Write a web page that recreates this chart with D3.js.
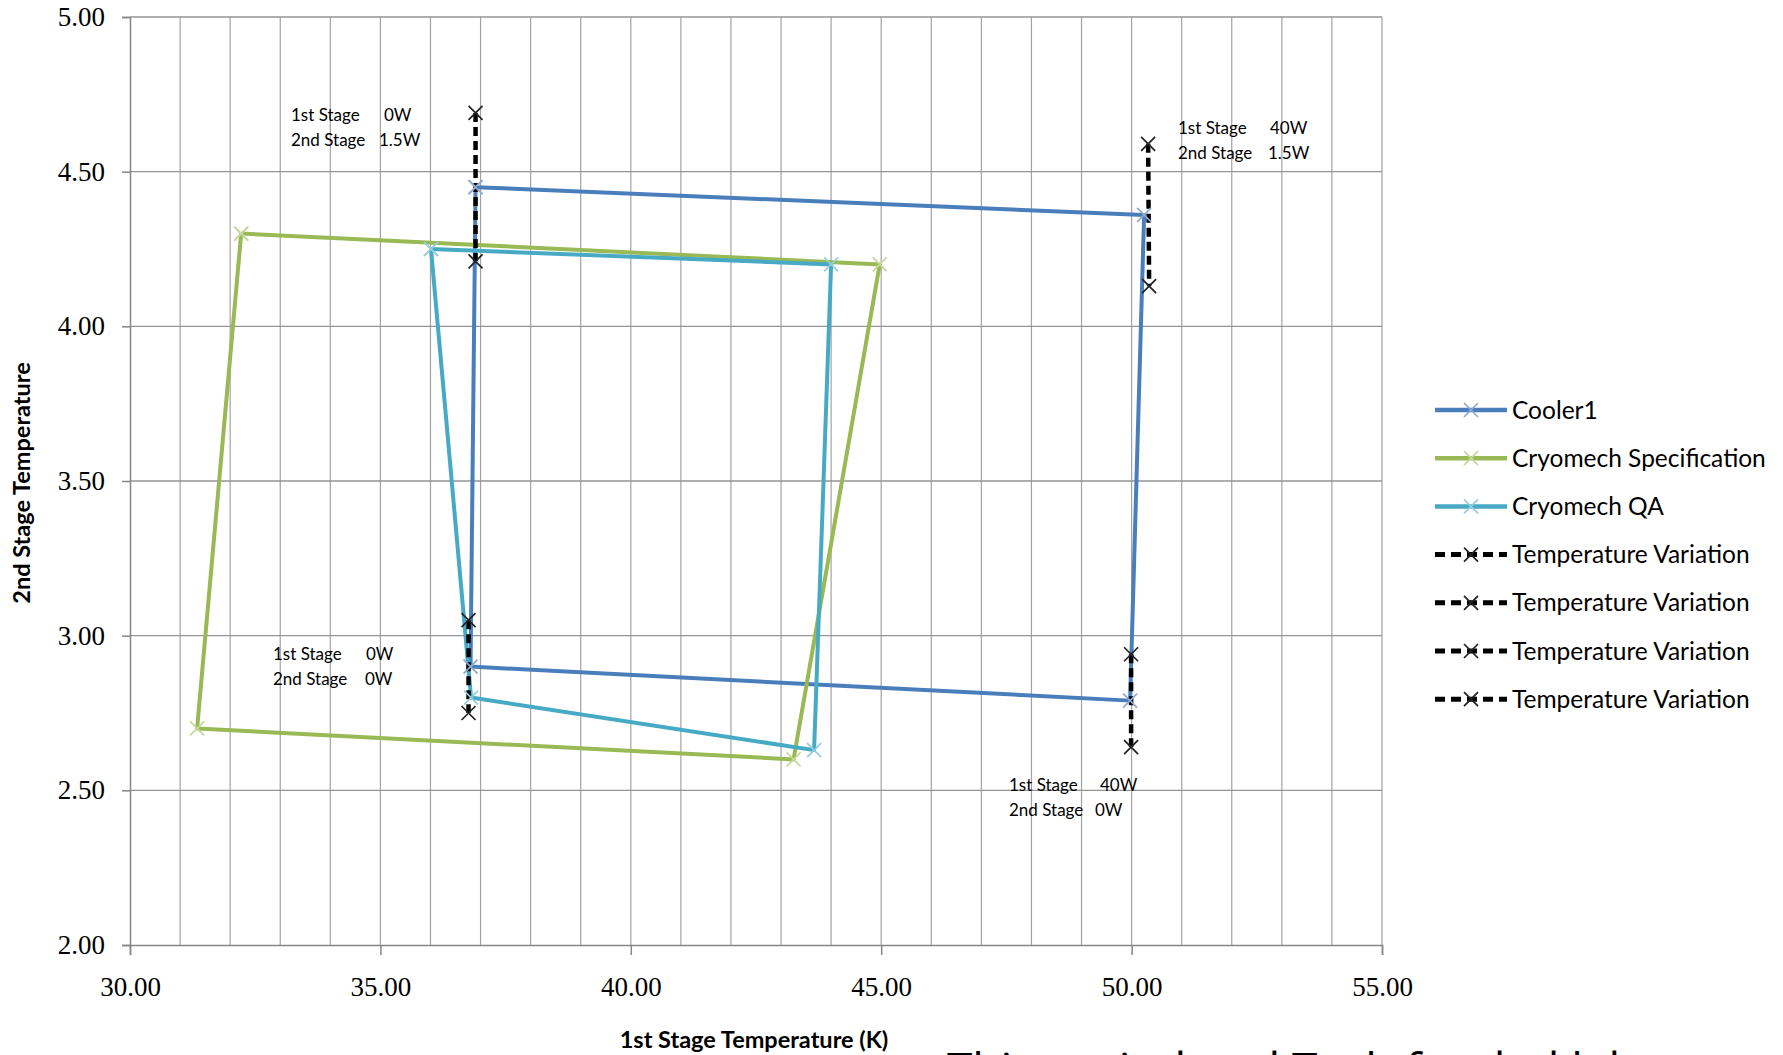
<!DOCTYPE html>
<html><head><meta charset="utf-8">
<script src="https://cdn.jsdelivr.net/npm/d3@7"></script>
<style>body{margin:0;background:#fff;overflow:hidden}</style>
</head><body>
<svg id="c" width="1783" height="1055"></svg>
<script>
// ---- data ----
const xTicks = [30, 35, 40, 45, 50, 55];
const yTicks = [2.0, 2.5, 3.0, 3.5, 4.0, 4.5, 5.0];
const seriesNames = ["Cooler1", "Cryomech Specification", "Cryomech QA",
  "Temperature Variation", "Temperature Variation", "Temperature Variation", "Temperature Variation"];
const cooler1X = [36.90, 50.25, 49.97, 36.80, 36.90];
const cooler1Y = [4.45, 4.36, 2.79, 2.90, 4.45];
const specX = [32.22, 44.97, 43.25, 31.34, 32.22];
const specY = [4.30, 4.20, 2.60, 2.70, 4.30];
const qaX = [36.01, 44.00, 43.66, 36.81, 36.01];
const qaY = [4.25, 4.20, 2.63, 2.80, 4.25];
const tv1X = [36.90, 36.90], tv1Y = [4.69, 4.21];
const tv2X = [36.76, 36.76], tv2Y = [3.05, 2.75];
const tv3X = [50.33, 50.35], tv3Y = [4.59, 4.13];
const tv4X = [49.99, 49.99], tv4Y = [2.94, 2.64];
const noteTexts = [
  ["1st Stage", "0W", "2nd Stage", "1.5W"],
  ["1st Stage", "40W", "2nd Stage", "1.5W"],
  ["1st Stage", "0W", "2nd Stage", "0W"],
  ["1st Stage", "40W", "2nd Stage", "0W"]
];
const captionText = "This period and Tech funded lab";

// ---- styles / layout ----
const styles = [
  {line: "#4A7EBB", mark: "#8FAAD0", w: 4, dash: null},
  {line: "#98B954", mark: "#C4D89C", w: 4, dash: null},
  {line: "#46AAC5", mark: "#94CEDE", w: 4, dash: null},
  {line: "#000", mark: "#222", w: 4.5, dash: "9,5"},
  {line: "#000", mark: "#222", w: 4.5, dash: "9,5"},
  {line: "#000", mark: "#222", w: 4.5, dash: "9,5"},
  {line: "#000", mark: "#222", w: 4.5, dash: "9,5"}
];
const notePos = [[291, 115, 93, 88], [1178, 128, 92, 90], [273, 654, 93, 92], [1009, 785, 91, 86]];

const series = [
  d3.zip(cooler1X, cooler1Y), d3.zip(specX, specY), d3.zip(qaX, qaY),
  d3.zip(tv1X, tv1Y), d3.zip(tv2X, tv2Y), d3.zip(tv3X, tv3Y), d3.zip(tv4X, tv4Y)
];

const svg = d3.select("#c");
const L = 130, R = 1382, T = 17, B = 945;
const x = d3.scaleLinear().domain([30, 55]).range([L, R]);
const y = d3.scaleLinear().domain([2, 5]).range([B, T]);
const sans = "Lato, 'Open Sans', sans-serif";
const serif = "'Liberation Serif', 'DejaVu Serif', serif";

// grid
const g = svg.append("g");
g.selectAll("line.v").data(d3.range(31, 56)).join("line")
  .attr("x1", d => x(d)).attr("x2", d => x(d)).attr("y1", T).attr("y2", B)
  .attr("stroke", "#a3a3a3").attr("stroke-width", 1.2);
g.selectAll("line.h").data(yTicks.slice(1)).join("line")
  .attr("x1", L).attr("x2", R).attr("y1", d => y(d)).attr("y2", d => y(d))
  .attr("stroke", "#959595").attr("stroke-width", 1.3);

// axes
const ax = svg.append("g").attr("transform", `translate(0,${B})`)
  .call(d3.axisBottom(x).tickValues(xTicks).tickFormat(d3.format(".2f")).tickSize(10).tickPadding(22));
const ay = svg.append("g").attr("transform", `translate(${L},0)`)
  .call(d3.axisLeft(y).tickValues(yTicks).tickFormat(d3.format(".2f")).tickSize(8).tickPadding(17));
[ax, ay].forEach(a => {
  a.select(".domain").attr("stroke", "#868686").attr("stroke-width", 1.5);
  a.selectAll(".tick line").attr("stroke", "#868686").attr("stroke-width", 1.5);
  a.selectAll(".tick text").attr("font-family", serif).attr("font-size", 27).attr("fill", "#000");
});

// lines
const lineGen = d3.line().x(d => x(d[0])).y(d => y(d[1]));
const markPath = "M-7,-7L7,7M7,-7L-7,7";
series.forEach((s, i) => {
  const st = styles[i];
  svg.append("path").datum(s).attr("d", lineGen).attr("fill", "none")
    .attr("stroke", st.line).attr("stroke-width", st.w)
    .attr("stroke-dasharray", st.dash).attr("stroke-linejoin", "round");
});
series.forEach((s, i) => {
  const st = styles[i];
  svg.append("g").selectAll("path").data(s).join("path")
    .attr("transform", d => `translate(${x(d[0])},${y(d[1])})`)
    .attr("d", markPath).attr("stroke", st.mark).attr("stroke-width", 1.7).attr("fill", "none");
});

// annotations
noteTexts.forEach((n, i) => {
  const [bx, by, o1, o2] = notePos[i];
  const t = svg.append("g").attr("font-family", sans).attr("font-size", 17).attr("fill", "#000");
  t.append("text").attr("x", bx).attr("y", by).attr("dy", "0.35em").text(n[0]);
  t.append("text").attr("x", bx + o1).attr("y", by).attr("dy", "0.35em").text(n[1]);
  t.append("text").attr("x", bx).attr("y", by + 25).attr("dy", "0.35em").text(n[2]);
  t.append("text").attr("x", bx + o2).attr("y", by + 25).attr("dy", "0.35em").text(n[3]);
});

// legend
const lg = svg.append("g");
seriesNames.forEach((name, i) => {
  const st = styles[i];
  const ly = 410 + i * 48.2;
  lg.append("line").attr("x1", 1435).attr("x2", 1507).attr("y1", ly).attr("y2", ly)
    .attr("stroke", st.line).attr("stroke-width", st.w + 0.5).attr("stroke-dasharray", st.dash ? "10,6" : null);
  lg.append("path").attr("transform", `translate(1471,${ly})`).attr("d", markPath)
    .attr("stroke", st.mark).attr("stroke-width", 1.7);
  lg.append("text").attr("x", 1512).attr("y", ly).attr("dy", "0.35em")
    .attr("font-family", sans).attr("font-size", 24.5).attr("fill", "#000").text(name);
});

// axis titles
svg.append("text").attr("x", 754).attr("y", 1048).attr("text-anchor", "middle")
  .attr("font-family", sans).attr("font-weight", "bold").attr("font-size", 23.5).text("1st Stage Temperature (K)");
svg.append("text").attr("transform", "translate(30,483) rotate(-90)").attr("text-anchor", "middle")
  .attr("font-family", sans).attr("font-weight", "bold").attr("font-size", 23.5).text("2nd Stage Temperature");

// caption at bottom, cut by the picture edge as in the reference
svg.append("text").attr("x", 947).attr("y", 1086).attr("font-family", "'Open Sans', sans-serif")
  .attr("font-size", 46).attr("fill", "#000").text(captionText);
</script>
</body></html>
